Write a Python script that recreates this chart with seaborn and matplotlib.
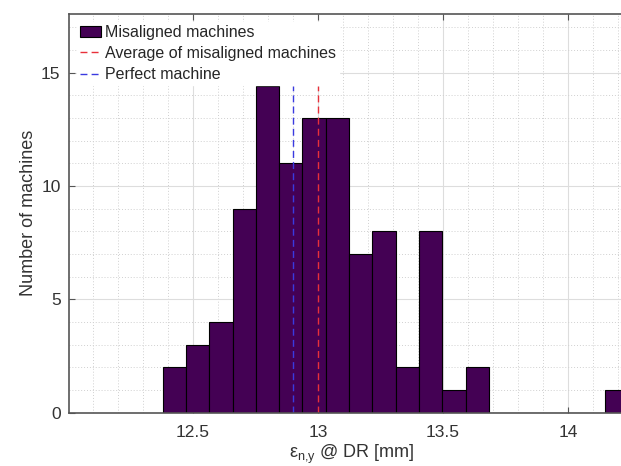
import matplotlib
matplotlib.use('Agg')
import matplotlib.pyplot as plt
import numpy as np
import pandas as pd
import seaborn as sns
from matplotlib.ticker import MultipleLocator

# histogram of misaligned machines (bin counts)
counts = [2, 3, 4, 9, 14.4, 11, 13, 13, 7, 8, 2, 8, 1, 2, 0, 0, 0, 0, 0, 1]
bin_lo = 12.378
bin_hi = 14.244
mean_misaligned = 13.0
perfect = 12.9

sns.set_style('white')
plt.rcParams['font.family'] = ['Liberation Sans', 'DejaVu Sans']
plt.rcParams['mathtext.default'] = 'regular'

edges = np.linspace(bin_lo, bin_hi, len(counts) + 1)
df = pd.DataFrame({'eps': 0.5 * (edges[:-1] + edges[1:]), 'n': counts})

fig = plt.figure(figsize=(6.21, 4.66), dpi=100)
# the original figure is cut on the right, so the axes run past the edge
ax = fig.add_axes([0.111, 0.1144, 0.912, 0.856])

ax.grid(True, which='major', color='#dddddd', lw=0.8, ls='-')
ax.grid(True, which='minor', color='#d0d0d0', lw=0.7, ls=(0, (1, 2)))
ax.set_axisbelow(True)

sns.histplot(data=df, x='eps', weights='n', bins=list(edges), color='#440154', alpha=1,
             edgecolor='black', linewidth=0.8, ax=ax, label='Misaligned machines')

top = max(counts)
ax.plot([mean_misaligned, mean_misaligned], [0, top], color='#e8303a', lw=1,
        ls=(0, (5, 3)), label='Average of misaligned machines')
ax.plot([perfect, perfect], [0, top], color='#3a3ae0', lw=1,
        ls=(0, (5, 3)), label='Perfect machine')

ax.set_xlim(12.003, 14.27)
ax.set_ylim(0, 17.6)
ax.xaxis.set_major_locator(MultipleLocator(0.5))
ax.xaxis.set_minor_locator(MultipleLocator(0.1))
ax.yaxis.set_major_locator(MultipleLocator(5))
ax.yaxis.set_minor_locator(MultipleLocator(1))
ax.set_xticks([12.5, 13, 13.5, 14])
ax.set_xticklabels(['12.5', '13', '13.5', '14'])
ax.tick_params(which='major', direction='in', length=4, color='#555555',
               labelsize=12.5, labelcolor='#333333', top=True, bottom=True, left=True)
ax.tick_params(axis='x', which='major', pad=9)
ax.tick_params(axis='y', which='major', pad=6)
ax.tick_params(which='minor', length=0)

for s in ['left', 'bottom', 'top']:
    ax.spines[s].set_color('#555555')
    ax.spines[s].set_linewidth(1.2)
ax.spines['right'].set_visible(False)

ax.set_xlabel(r'ε$_{n{,}y}$ @ DR [mm]', fontsize=13, color='#333333', labelpad=2)
ax.set_ylabel('Number of machines', fontsize=13, color='#333333', labelpad=3)

handles, labels = ax.get_legend_handles_labels()
order = [labels.index('Misaligned machines'),
         labels.index('Average of misaligned machines'),
         labels.index('Perfect machine')]
leg = ax.legend([handles[i] for i in order], [labels[i] for i in order],
                loc='upper left', frameon=True, fontsize=11.5, handlelength=1.3,
                borderaxespad=0.5, borderpad=0.2, labelspacing=0.38, handletextpad=0.25)
leg.get_frame().set_edgecolor('white')
leg.get_frame().set_facecolor('white')
leg.get_frame().set_alpha(1)

fig.savefig('out.png', dpi=100)
